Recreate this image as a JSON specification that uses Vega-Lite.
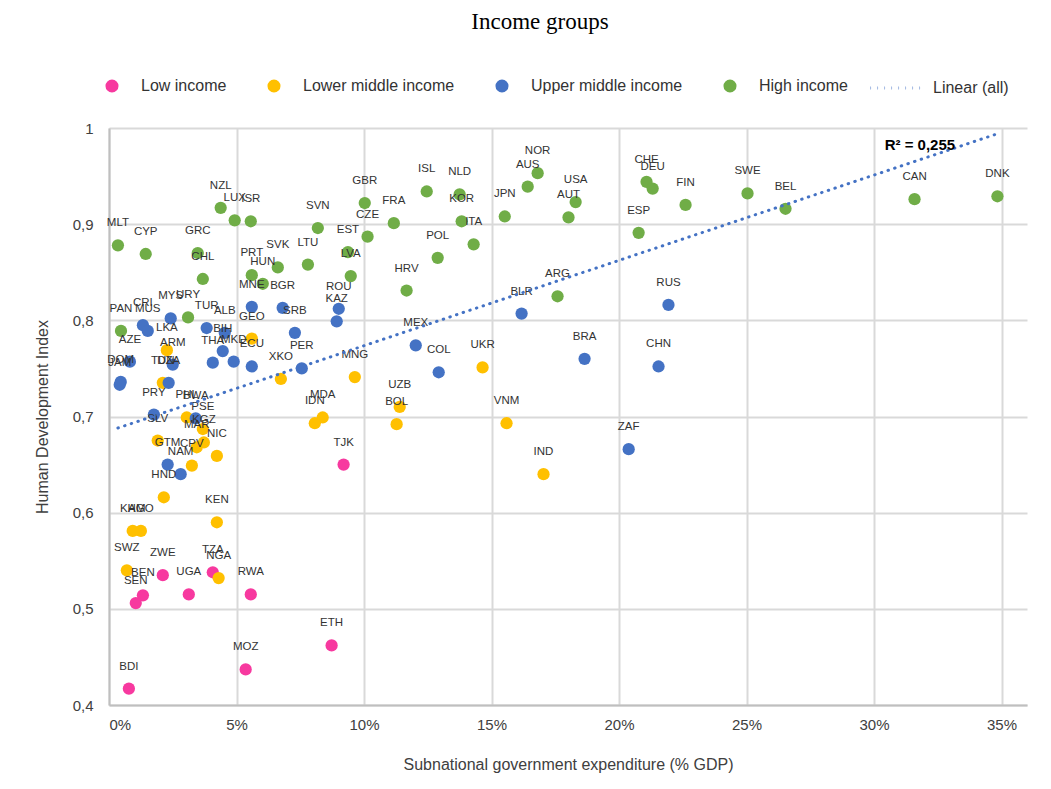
{
  "$schema": "https://vega.github.io/schema/vega-lite/v6.json",
  "width": 918,
  "height": 577,
  "autosize": {"type": "none"},
  "padding": {"left": 109, "top": 128, "right": 24, "bottom": 84},
  "background": "white",
  "title": {"text": "Income groups", "font": "Liberation Serif", "fontSize": 23, "fontWeight": "normal", "color": "#000000", "anchor": "middle", "dx": -28, "offset": 26},
  "config": {
    "view": {"stroke": null},
    "axis": {"labelFont": "Liberation Sans", "labelFontSize": 15, "labelColor": "#404040", "titleFont": "Liberation Sans", "titleFontSize": 16, "titleFontWeight": "normal", "titleColor": "#404040", "ticks": false, "domainColor": "#bfbfbf", "domainWidth": 2, "gridColor": "#d9d9d9", "gridWidth": 2},
    "legend": {"labelFont": "Liberation Sans", "labelFontSize": 16, "labelColor": "#333333", "padding": 0}
  },
  "datasets": {
    "points": [
      {"code": "TJK", "group": "Low income", "x": 9.20, "y": 0.650},
      {"code": "ZWE", "group": "Low income", "x": 2.11, "y": 0.535},
      {"code": "BEN", "group": "Low income", "x": 1.33, "y": 0.514},
      {"code": "SEN", "group": "Low income", "x": 1.05, "y": 0.506},
      {"code": "UGA", "group": "Low income", "x": 3.13, "y": 0.515},
      {"code": "TZA", "group": "Low income", "x": 4.07, "y": 0.538},
      {"code": "RWA", "group": "Low income", "x": 5.56, "y": 0.515},
      {"code": "MOZ", "group": "Low income", "x": 5.36, "y": 0.437},
      {"code": "BDI", "group": "Low income", "x": 0.78, "y": 0.417},
      {"code": "ETH", "group": "Low income", "x": 8.73, "y": 0.462},
      {"code": "LKA", "group": "Lower middle income", "x": 2.27, "y": 0.769},
      {"code": "GEO", "group": "Lower middle income", "x": 5.60, "y": 0.781},
      {"code": "XKO", "group": "Lower middle income", "x": 6.74, "y": 0.739},
      {"code": "TUN", "group": "Lower middle income", "x": 2.11, "y": 0.735},
      {"code": "PHL", "group": "Lower middle income", "x": 3.05, "y": 0.699},
      {"code": "PSE", "group": "Lower middle income", "x": 3.68, "y": 0.687},
      {"code": "KGZ", "group": "Lower middle income", "x": 3.72, "y": 0.673},
      {"code": "MAR", "group": "Lower middle income", "x": 3.44, "y": 0.668},
      {"code": "SLV", "group": "Lower middle income", "x": 1.91, "y": 0.675},
      {"code": "NIC", "group": "Lower middle income", "x": 4.23, "y": 0.659},
      {"code": "CPV", "group": "Lower middle income", "x": 3.25, "y": 0.649},
      {"code": "HND", "group": "Lower middle income", "x": 2.15, "y": 0.616},
      {"code": "KEN", "group": "Lower middle income", "x": 4.23, "y": 0.590},
      {"code": "KHM", "group": "Lower middle income", "x": 0.93, "y": 0.581},
      {"code": "AGO", "group": "Lower middle income", "x": 1.25, "y": 0.581},
      {"code": "SWZ", "group": "Lower middle income", "x": 0.70, "y": 0.540},
      {"code": "NGA", "group": "Lower middle income", "x": 4.30, "y": 0.532},
      {"code": "MNG", "group": "Lower middle income", "x": 9.64, "y": 0.741},
      {"code": "IDN", "group": "Lower middle income", "x": 8.07, "y": 0.693},
      {"code": "MDA", "group": "Lower middle income", "x": 8.38, "y": 0.699},
      {"code": "UKR", "group": "Lower middle income", "x": 14.65, "y": 0.751},
      {"code": "UZB", "group": "Lower middle income", "x": 11.40, "y": 0.710},
      {"code": "BOL", "group": "Lower middle income", "x": 11.28, "y": 0.692},
      {"code": "VNM", "group": "Lower middle income", "x": 15.59, "y": 0.693},
      {"code": "IND", "group": "Lower middle income", "x": 17.04, "y": 0.640},
      {"code": "MNE", "group": "Upper middle income", "x": 5.60, "y": 0.814},
      {"code": "BGR", "group": "Upper middle income", "x": 6.81, "y": 0.813},
      {"code": "MYS", "group": "Upper middle income", "x": 2.42, "y": 0.802},
      {"code": "CRI", "group": "Upper middle income", "x": 1.33, "y": 0.795},
      {"code": "MUS", "group": "Upper middle income", "x": 1.52, "y": 0.789},
      {"code": "TUR", "group": "Upper middle income", "x": 3.83, "y": 0.792},
      {"code": "ALB", "group": "Upper middle income", "x": 4.54, "y": 0.787},
      {"code": "BIH", "group": "Upper middle income", "x": 4.46, "y": 0.768},
      {"code": "THA", "group": "Upper middle income", "x": 4.07, "y": 0.756},
      {"code": "MKD", "group": "Upper middle income", "x": 4.89, "y": 0.757},
      {"code": "ECU", "group": "Upper middle income", "x": 5.60, "y": 0.752},
      {"code": "AZE", "group": "Upper middle income", "x": 0.82, "y": 0.757},
      {"code": "DOM", "group": "Upper middle income", "x": 0.46, "y": 0.736},
      {"code": "JAM", "group": "Upper middle income", "x": 0.42, "y": 0.733},
      {"code": "ARM", "group": "Upper middle income", "x": 2.50, "y": 0.754},
      {"code": "DZA", "group": "Upper middle income", "x": 2.34, "y": 0.735},
      {"code": "PRY", "group": "Upper middle income", "x": 1.76, "y": 0.702},
      {"code": "BWA", "group": "Upper middle income", "x": 3.40, "y": 0.698},
      {"code": "GTM", "group": "Upper middle income", "x": 2.30, "y": 0.650},
      {"code": "NAM", "group": "Upper middle income", "x": 2.81, "y": 0.640},
      {"code": "PER", "group": "Upper middle income", "x": 7.56, "y": 0.750},
      {"code": "SRB", "group": "Upper middle income", "x": 7.29, "y": 0.787},
      {"code": "ROU", "group": "Upper middle income", "x": 9.01, "y": 0.812},
      {"code": "KAZ", "group": "Upper middle income", "x": 8.93, "y": 0.799},
      {"code": "MEX", "group": "Upper middle income", "x": 12.03, "y": 0.774},
      {"code": "COL", "group": "Upper middle income", "x": 12.93, "y": 0.746},
      {"code": "BLR", "group": "Upper middle income", "x": 16.18, "y": 0.807},
      {"code": "BRA", "group": "Upper middle income", "x": 18.65, "y": 0.760},
      {"code": "RUS", "group": "Upper middle income", "x": 21.94, "y": 0.816},
      {"code": "CHN", "group": "Upper middle income", "x": 21.55, "y": 0.752},
      {"code": "ZAF", "group": "Upper middle income", "x": 20.38, "y": 0.666},
      {"code": "MLT", "group": "High income", "x": 0.35, "y": 0.878},
      {"code": "CYP", "group": "High income", "x": 1.44, "y": 0.869},
      {"code": "GRC", "group": "High income", "x": 3.48, "y": 0.870},
      {"code": "CHL", "group": "High income", "x": 3.68, "y": 0.843},
      {"code": "NZL", "group": "High income", "x": 4.38, "y": 0.917},
      {"code": "LUX", "group": "High income", "x": 4.93, "y": 0.904},
      {"code": "ISR", "group": "High income", "x": 5.56, "y": 0.903},
      {"code": "PRT", "group": "High income", "x": 5.60, "y": 0.847},
      {"code": "HUN", "group": "High income", "x": 6.03, "y": 0.838},
      {"code": "SVK", "group": "High income", "x": 6.62, "y": 0.855},
      {"code": "URY", "group": "High income", "x": 3.10, "y": 0.803},
      {"code": "PAN", "group": "High income", "x": 0.47, "y": 0.789},
      {"code": "GBR", "group": "High income", "x": 10.03, "y": 0.922},
      {"code": "SVN", "group": "High income", "x": 8.19, "y": 0.896},
      {"code": "FRA", "group": "High income", "x": 11.17, "y": 0.901},
      {"code": "CZE", "group": "High income", "x": 10.14, "y": 0.887},
      {"code": "EST", "group": "High income", "x": 9.37, "y": 0.871},
      {"code": "LTU", "group": "High income", "x": 7.80, "y": 0.858},
      {"code": "LVA", "group": "High income", "x": 9.48, "y": 0.846},
      {"code": "ISL", "group": "High income", "x": 12.46, "y": 0.934},
      {"code": "NLD", "group": "High income", "x": 13.75, "y": 0.931},
      {"code": "KOR", "group": "High income", "x": 13.83, "y": 0.903},
      {"code": "ITA", "group": "High income", "x": 14.30, "y": 0.879},
      {"code": "POL", "group": "High income", "x": 12.89, "y": 0.865},
      {"code": "HRV", "group": "High income", "x": 11.67, "y": 0.831},
      {"code": "NOR", "group": "High income", "x": 16.81, "y": 0.953},
      {"code": "AUS", "group": "High income", "x": 16.42, "y": 0.939},
      {"code": "JPN", "group": "High income", "x": 15.52, "y": 0.908},
      {"code": "USA", "group": "High income", "x": 18.30, "y": 0.923},
      {"code": "AUT", "group": "High income", "x": 18.02, "y": 0.907},
      {"code": "CHE", "group": "High income", "x": 21.08, "y": 0.944},
      {"code": "DEU", "group": "High income", "x": 21.32, "y": 0.937},
      {"code": "FIN", "group": "High income", "x": 22.61, "y": 0.920},
      {"code": "ESP", "group": "High income", "x": 20.77, "y": 0.891},
      {"code": "ARG", "group": "High income", "x": 17.59, "y": 0.825},
      {"code": "SWE", "group": "High income", "x": 25.04, "y": 0.932},
      {"code": "BEL", "group": "High income", "x": 26.53, "y": 0.916},
      {"code": "CAN", "group": "High income", "x": 31.59, "y": 0.926},
      {"code": "DNK", "group": "High income", "x": 34.84, "y": 0.929}
    ],
    "trend": [
      {"x": 0.35, "y": 0.688, "series": "Linear (all)"},
      {"x": 34.84, "y": 0.994, "series": "Linear (all)"}
    ],
    "r2": [
      {"x": 31.8, "y": 0.982, "label": "R² = 0,255"}
    ]
  },
  "encoding": {
    "x": {"field": "x", "type": "quantitative", "scale": {"domain": [0, 36], "nice": false, "zero": false},
      "axis": {"values": [0, 5, 10, 15, 20, 25, 30, 35], "labelExpr": "datum.value + '%'", "title": "Subnational government expenditure (% GDP)", "labelPadding": 12, "titlePadding": 24, "grid": true}},
    "y": {"field": "y", "type": "quantitative", "scale": {"domain": [0.4, 1], "nice": false, "zero": false},
      "axis": {"values": [0.4, 0.5, 0.6, 0.7, 0.8, 0.9, 1], "labelExpr": "datum.value == 1 ? '1' : replace(format(datum.value, '.1f'), '.', ',')", "title": "Human Development Index", "labelPadding": 16, "titlePadding": 22, "grid": true}}
  },
  "layer": [
    {
      "data": {"name": "points"},
      "mark": {"type": "point", "filled": true, "size": 150, "opacity": 1},
      "encoding": {
        "color": {"field": "group", "type": "nominal",
          "scale": {"domain": ["Low income", "Lower middle income", "Upper middle income", "High income"], "range": ["#F7399F", "#FFC000", "#4472C4", "#70AD47"]},
          "legend": {"title": null, "orient": "none", "direction": "horizontal", "legendX": -5, "legendY": -50, "symbolSize": 170, "symbolType": "circle", "symbolOpacity": 1, "labelOffset": 21, "columnPadding": 39, "columns": 4}}
      }
    },
    {
      "data": {"name": "points"},
      "mark": {"type": "text", "dy": -22, "font": "Liberation Sans", "fontSize": 11.5, "color": "#333333"},
      "encoding": {"text": {"field": "code"}}
    },
    {
      "data": {"name": "trend"},
      "mark": {"type": "line", "color": "#4472C4", "strokeWidth": 3, "strokeCap": "round"},
      "encoding": {
        "strokeDash": {"field": "series", "type": "nominal",
          "scale": {"domain": ["Linear (all)"], "range": [[0.5, 6.5]]},
          "legend": {"title": null, "orient": "none", "legendX": 760, "legendY": -68, "symbolType": "stroke", "symbolSize": 2800, "symbolStrokeColor": "#4472C4", "symbolStrokeWidth": 3, "symbolDash": [1.5, 3], "symbolOpacity": 1, "labelOffset": 8,
            "encode": {"symbols": {"update": {"stroke": {"value": "#4472C4"}, "strokeWidth": {"value": 3}, "strokeDash": {"value": [1.5, 3]}, "opacity": {"value": 1}}}}}}
      }
    },
    {
      "data": {"name": "r2"},
      "mark": {"type": "text", "font": "Liberation Sans", "fontSize": 15, "fontWeight": "bold", "color": "#000000"},
      "encoding": {"text": {"field": "label"}}
    }
  ]
}
